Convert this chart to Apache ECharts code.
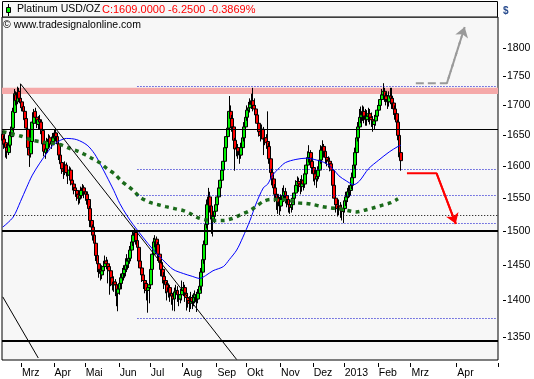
<!DOCTYPE html>
<html><head><meta charset="utf-8">
<script src="https://cdn.jsdelivr.net/npm/echarts@6/dist/echarts.min.js"></script>
<style>html,body{margin:0;padding:0;background:#fff}#c{width:534px;height:379px}</style>
</head><body><div id="c"></div>
<script>
// ---- axis / category data ----
const monthNames = ['2013','Feb','Mrz','Apr','Mai','Jun','Jul','Aug','Sep','Okt','Nov','Dez'];
const firstDay = [2012, 1, 13];      // first trading day shown
const lastTradeDay = [2013, 1, 22];  // last candle
const lastAxisDay = [2013, 3, 28];   // future area (calendar days) to here
const yTicks = [1350,1400,1450,1500,1550,1600,1650,1700,1750,1800];
const yMin = 1319.4, yMax = 1856.4;

function iso(d){return d.toISOString().slice(0,10);}
const categories = [];
(function(){
  let t = Date.UTC(firstDay[0],firstDay[1],firstDay[2]);
  const lt = Date.UTC(lastTradeDay[0],lastTradeDay[1],lastTradeDay[2]);
  const et = Date.UTC(lastAxisDay[0],lastAxisDay[1],lastAxisDay[2]);
  while (t <= et) { const d = new Date(t); const wd = d.getUTCDay();
    if (t > lt || (wd !== 0 && wd !== 6)) categories.push(iso(d)); t += 86400000; }
})();
const monthStart = {};
for (let i = 1; i < categories.length; i++) if (categories[i].slice(5,7) !== categories[i-1].slice(5,7)) monthStart[i] = true;

// ---- candles [open, close, low, high] ----
const candles = [
[1652,1642,1635,1658],[1644,1636,1628,1650],[1638,1630,1614,1642],[1630,1624,1612,1636],[1622,1634,1618,1640],
[1634,1650,1630,1656],[1648,1664,1644,1670],[1662,1690,1658,1696],[1688,1720,1684,1728],[1718,1708,1700,1724],
[1706,1722,1702,1732],[1724,1712,1706,1730],[1712,1704,1696,1737],[1706,1696,1690,1712],[1698,1690,1682,1702],
[1690,1676,1670,1694],[1678,1662,1656,1682],[1660,1630,1622,1664],[1628,1618,1599,1634],[1620,1640,1614,1646],
[1640,1672,1636,1678],[1670,1688,1666,1694],[1690,1680,1672,1696],[1680,1670,1662,1686],[1668,1676,1660,1682],
[1676,1672,1664,1684],[1672,1660,1652,1676],[1658,1636,1630,1662],[1636,1624,1616,1640],[1622,1628,1612,1634],
[1628,1640,1622,1646],[1640,1644,1632,1652],[1646,1636,1630,1650],[1636,1640,1628,1648],[1640,1646,1634,1654],
[1646,1654,1640,1660],[1654,1648,1640,1660],[1648,1636,1630,1652],[1636,1618,1610,1640],[1618,1604,1596,1622],
[1606,1596,1588,1612],[1596,1592,1580,1602],[1590,1602,1586,1608],[1602,1590,1584,1606],[1590,1586,1572,1594],
[1586,1594,1580,1600],[1594,1578,1570,1598],[1578,1572,1562,1582],[1572,1566,1556,1576],[1566,1562,1552,1570],
[1562,1556,1546,1566],[1556,1550,1540,1562],[1550,1554,1542,1560],[1554,1562,1548,1568],[1562,1566,1556,1572],
[1566,1560,1550,1570],[1560,1556,1546,1564],[1556,1548,1540,1560],[1548,1534,1526,1552],[1534,1516,1506,1538],
[1516,1506,1496,1520],[1506,1494,1486,1510],[1494,1482,1472,1498],[1482,1464,1456,1486],[1464,1452,1440,1468],
[1452,1444,1432,1458],[1444,1438,1428,1450],[1436,1442,1430,1450],[1442,1448,1436,1456],[1448,1456,1442,1464],
[1456,1452,1444,1462],[1452,1448,1424,1458],[1448,1442,1408,1452],[1442,1432,1420,1446],[1432,1422,1414,1438],
[1422,1426,1412,1434],[1426,1422,1406,1430],[1422,1412,1392,1426],[1410,1416,1385,1422],[1416,1424,1408,1430],
[1424,1432,1416,1438],[1432,1438,1424,1446],[1438,1444,1428,1450],[1444,1450,1434,1460],[1450,1456,1440,1466],
[1456,1460,1446,1470],[1460,1472,1452,1478],[1472,1484,1464,1492],[1484,1494,1478,1500],[1494,1498,1486,1504],
[1498,1486,1480,1502],[1486,1476,1468,1492],[1476,1456,1448,1480],[1456,1446,1436,1460],[1446,1436,1426,1450],
[1436,1428,1416,1440],[1428,1424,1410,1432],[1424,1414,1400,1428],[1414,1418,1383,1424],[1418,1422,1396,1428],
[1422,1444,1416,1450],[1444,1466,1438,1472],[1466,1484,1460,1490],[1484,1488,1476,1494],[1488,1480,1470,1492],
[1480,1466,1456,1484],[1466,1454,1444,1470],[1454,1444,1434,1458],[1444,1434,1424,1450],[1434,1428,1416,1440],
[1428,1422,1410,1432],[1422,1412,1400,1426],[1412,1418,1404,1424],[1418,1410,1398,1422],[1410,1406,1394,1416],
[1406,1402,1386,1410],[1402,1412,1385,1418],[1412,1414,1402,1422],[1414,1408,1398,1420],[1408,1402,1392,1412],
[1402,1408,1396,1416],[1408,1414,1400,1428],[1414,1418,1406,1426],[1418,1410,1398,1422],[1410,1404,1386,1414],
[1404,1400,1390,1410],[1400,1396,1384,1406],[1396,1404,1388,1412],[1404,1398,1388,1408],[1398,1404,1392,1410],
[1404,1408,1396,1414],[1408,1402,1384,1412],[1402,1410,1396,1416],[1410,1420,1404,1426],[1420,1440,1414,1446],
[1440,1458,1434,1464],[1458,1480,1452,1486],[1480,1510,1474,1516],[1510,1540,1504,1548],[1540,1552,1530,1566],
[1552,1538,1528,1560],[1538,1518,1496,1544],[1518,1522,1492,1530],[1522,1530,1512,1538],[1530,1540,1524,1548],
[1540,1552,1534,1560],[1552,1566,1546,1574],[1566,1578,1560,1586],[1578,1594,1572,1602],[1594,1608,1588,1616],
[1608,1630,1602,1638],[1630,1648,1624,1656],[1648,1662,1640,1672],[1662,1690,1656,1716],[1690,1678,1668,1700],
[1678,1664,1656,1684],[1664,1642,1634,1668],[1642,1628,1593,1646],[1628,1630,1616,1638],[1630,1624,1612,1636],
[1624,1618,1604,1628],[1618,1630,1612,1638],[1630,1646,1624,1654],[1646,1664,1640,1672],[1664,1680,1658,1688],
[1680,1692,1674,1700],[1692,1696,1684,1706],[1696,1702,1688,1712],[1702,1708,1694,1720],[1708,1700,1690,1730],
[1700,1694,1684,1712],[1694,1684,1676,1700],[1684,1670,1662,1690],[1670,1656,1648,1676],[1656,1650,1640,1666],
[1650,1660,1644,1668],[1660,1644,1618,1664],[1644,1646,1634,1656],[1646,1638,1628,1652],[1640,1632,1624,1690],
[1632,1612,1604,1638],[1612,1590,1582,1616],[1590,1580,1570,1596],[1580,1566,1558,1586],[1566,1556,1544,1572],
[1556,1550,1532,1562],[1550,1544,1526,1556],[1544,1538,1524,1552],[1538,1548,1530,1556],[1548,1554,1540,1566],
[1554,1560,1544,1570],[1560,1554,1542,1566],[1554,1548,1536,1560],[1548,1540,1528,1554],[1540,1536,1526,1546],
[1536,1540,1528,1550],[1540,1550,1532,1558],[1550,1558,1542,1566],[1558,1570,1550,1578],[1570,1576,1560,1584],
[1576,1572,1560,1582],[1572,1568,1556,1580],[1568,1578,1560,1586],[1578,1572,1562,1588],[1572,1588,1566,1596],
[1588,1602,1582,1610],[1602,1614,1594,1624],[1614,1622,1606,1634],[1622,1608,1598,1626],[1608,1598,1588,1614],
[1598,1588,1576,1604],[1588,1580,1570,1594],[1580,1584,1566,1592],[1584,1594,1576,1600],[1594,1610,1588,1618],
[1610,1626,1604,1634],[1626,1632,1618,1642],[1632,1624,1614,1636],[1624,1614,1604,1630],[1614,1610,1600,1620],
[1610,1608,1598,1616],[1608,1604,1592,1614],[1604,1594,1584,1608],[1594,1570,1560,1598],[1570,1550,1540,1574],
[1550,1540,1528,1554],[1540,1534,1522,1546],[1534,1538,1524,1548],[1538,1534,1520,1544],[1534,1530,1516,1540],
[1530,1534,1512,1542],[1534,1546,1528,1552],[1546,1552,1538,1560],[1552,1560,1544,1566],[1560,1562,1550,1570],
[1562,1570,1554,1578],[1570,1582,1564,1590],[1582,1602,1576,1610],[1602,1622,1596,1630],[1622,1646,1616,1654],
[1646,1664,1640,1672],[1664,1680,1656,1694],[1680,1684,1670,1698],[1684,1690,1674,1700],[1690,1682,1670,1698],
[1682,1676,1666,1694],[1676,1682,1666,1692],[1682,1686,1672,1696],[1686,1680,1668,1694],[1680,1676,1664,1688],
[1676,1668,1656,1682],[1668,1674,1660,1684],[1674,1682,1666,1690],[1682,1692,1676,1700],[1692,1700,1686,1708],
[1700,1710,1694,1718],[1710,1718,1702,1728],[1718,1724,1710,1738],[1724,1716,1706,1730],[1716,1710,1700,1722],
[1710,1706,1694,1718],[1706,1716,1698,1724],[1716,1712,1702,1730],[1712,1704,1694,1730],[1704,1694,1684,1712],
[1694,1686,1676,1700],[1686,1672,1664,1692],[1672,1650,1642,1676],[1650,1615,1610,1654],[1622,1609,1593,1628]
];

// ---- indicator lines: [categoryIndex, price] ----
const maBlue = [[0,1506],[7,1521],[12,1545],[16,1566],[20,1586],[25,1605],[30,1622],[34,1634],[39,1642],[43,1645],
[50,1643],[57,1634],[62,1620],[66,1603],[70,1585],[75,1562],[79,1542],[84,1523],[88,1510],[95,1490],[101,1474],
[108,1458],[115,1444],[122,1438],[128,1434],[133,1431],[137,1435],[142,1442],[149,1448],[153,1458],[158,1472],
[162,1490],[167,1516],[171,1541],[176,1566],[179,1572],[182,1585],[187,1598],[191,1606],[198,1611],[205,1613],
[212,1610],[218,1605],[223,1596],[227,1585],[232,1577],[237,1571],[241,1577],[247,1596],[254,1610],[261,1623],
[267,1632],[269,1634]];
const maGreen = [[0,1656],[12,1649],[20,1642],[27,1639],[34,1637],[40,1634],[45,1629],[51,1624],[56,1618],[60,1613],
[66,1605],[70,1597],[76,1587],[80,1577],[85,1568],[89,1560],[93,1551],[100,1543],[105,1540],[110,1537],[116,1534],
[122,1531],[127,1526],[132,1520],[137,1517],[143,1516],[149,1516],[155,1519],[161,1525],[166,1530],[171,1537],
[176,1545],[181,1548],[187,1548],[193,1547],[199,1543],[205,1542],[210,1540],[216,1537],[222,1535],[227,1534],
[233,1531],[239,1529],[245,1532],[250,1535],[256,1539],[262,1543],[267,1549]];

// ---- drawing objects ----
const solidLevels = [[1660,1],[1500,2],[1345,2]];        // [price, width]
const blueDotLevels = [1733,1596,1554,1512,1376];
const blueDotStart = 91;
const blackDotLevels = [1524];
const blackDotStart = 1;
const resistanceBand = [1719.5, 1730];
const trendA = [[12,1737],[158,1320]];
const trendB = [[0,1405],[24,1322]];
const redArrow = [[273,1589],[293,1589],[306,1511]];
const grayArrow = [[279,1738],[300,1738],[312,1838]];

const lastIdx = categories.length - 1;
const FONT = 'Liberation Sans';

const lvlLines = [];
solidLevels.forEach(([v,w]) => lvlLines.push({yAxis:v, lineStyle:{color:'#000', width:w, type:'solid'}}));
blueDotLevels.forEach(v => lvlLines.push([{coord:[blueDotStart,v], lineStyle:{color:'#0000cc', width:1, type:[1,2]}},{coord:[lastIdx,v]}]));
blackDotLevels.forEach(v => lvlLines.push([{coord:[blackDotStart,v], lineStyle:{color:'#000', width:1, type:[1,2]}},{coord:[lastIdx,v]}]));

function arrowHead(pts, color, type){
  const a = pts[pts.length-2], b = pts[pts.length-1];
  return [{coord:a, symbol:'none', lineStyle:{color:color, width:2, type:type}},{coord:b, symbol:'arrow'}];
}

const chart = echarts.init(document.getElementById('c'), null, {renderer:'canvas'});
chart.setOption({
  animation:false,
  grid:{left:2, right:36, top:17, bottom:19, show:true, backgroundColor:'#f7f7f7', borderColor:'#000', borderWidth:1},
  xAxis:{type:'category', data:categories, boundaryGap:true, offset:3,
    axisLine:{show:false},
    axisTick:{show:true, length:4, interval:(i)=>!!monthStart[i], lineStyle:{color:'#000'}},
    axisLabel:{interval:(i)=>!!monthStart[i], formatter:(v)=>monthNames[parseInt(v.slice(5,7),10)-1],
      align:'left', margin:5, color:'#000', fontSize:10.5, fontFamily:FONT},
    splitLine:{show:false}},
  yAxis:{type:'log', logBase:10, min:yMin, max:yMax, position:'right', offset:5,
    axisLine:{show:false}, splitLine:{show:false},
    axisTick:{show:true, length:3, lineStyle:{color:'#000'}, customValues:yTicks},
    axisLabel:{customValues:yTicks, formatter:(v)=>String(Math.round(v)), margin:4, color:'#000', fontSize:10.5, fontFamily:FONT}},
  series:[
    {type:'candlestick', name:'Platinum', data:candles, barWidth:3.4, z:3,
      itemStyle:{color:'#00f000', color0:'#ff0000', borderColor:'#000', borderColor0:'#000', borderWidth:1},
      markArea:{silent:true, itemStyle:{color:'#f5a9a9'}, data:[[{yAxis:resistanceBand[0]},{yAxis:resistanceBand[1]}]]},
      markLine:{silent:true, symbol:['none','none'], label:{show:false}, animation:false, data:lvlLines}},
    {type:'line', name:'MA blue', data:maBlue, symbol:'none', smooth:0.3, z:4, lineStyle:{color:'#0000ff', width:1}},
    {type:'line', name:'MA green', data:maGreen, symbol:'none', smooth:0.3, z:4, lineStyle:{color:'#1b6b1b', width:3.5, type:[4,4.3]}},
    {type:'line', name:'Trend A', data:trendA, symbol:'none', z:5, lineStyle:{color:'#000', width:1}},
    {type:'line', name:'Trend B', data:trendB, symbol:'none', z:5, lineStyle:{color:'#000', width:1}},
    {type:'line', name:'Red arrow', data:redArrow, symbol:'none', z:6, lineStyle:{color:'#ff0000', width:2},
      markLine:{silent:true, symbol:['none','arrow'], symbolSize:10, label:{show:false}, data:[arrowHead(redArrow,'#ff0000','solid')]}},
    {type:'line', name:'Gray arrow', data:grayArrow, symbol:'none', z:6, lineStyle:{color:'#9a9a9a', width:2, type:[8,4]},
      markLine:{silent:true, symbol:['none','arrow'], symbolSize:10, label:{show:false}, data:[arrowHead(grayArrow,'#9a9a9a',[8,4])]}}
  ],
  graphic:[
    {type:'rect', z:100, shape:{x:2.5, y:1.5, width:495, height:15.5}, style:{fill:'#f7f7f7', stroke:'#000', lineWidth:1}},
    {type:'line', z:101, shape:{x1:8.5, y1:4, x2:8.5, y2:16}, style:{stroke:'#000', lineWidth:1}},
    {type:'rect', z:102, shape:{x:6.5, y:7.5, width:4, height:5}, style:{fill:'#00f000', stroke:'#000', lineWidth:1}},
    {type:'text', z:103, left:17, top:4, style:{text:'Platinum USD/OZ', fill:'#000', font:'10.5px "Liberation Sans"'}},
    {type:'text', z:103, left:102, top:4, style:{text:'C:1609.0000 -6.2500 -0.3869%', fill:'#ff0000', font:'11px "Liberation Sans"'}},
    {type:'text', z:103, left:3, top:20, style:{text:'© www.tradesignalonline.com', fill:'#000', font:'10.5px "Liberation Sans"'}},
    {type:'text', z:103, left:503, top:6, style:{text:'$', fill:'#2a4d8f', font:'bold 10px "Liberation Sans"'}}
  ]
});
</script></body></html>
